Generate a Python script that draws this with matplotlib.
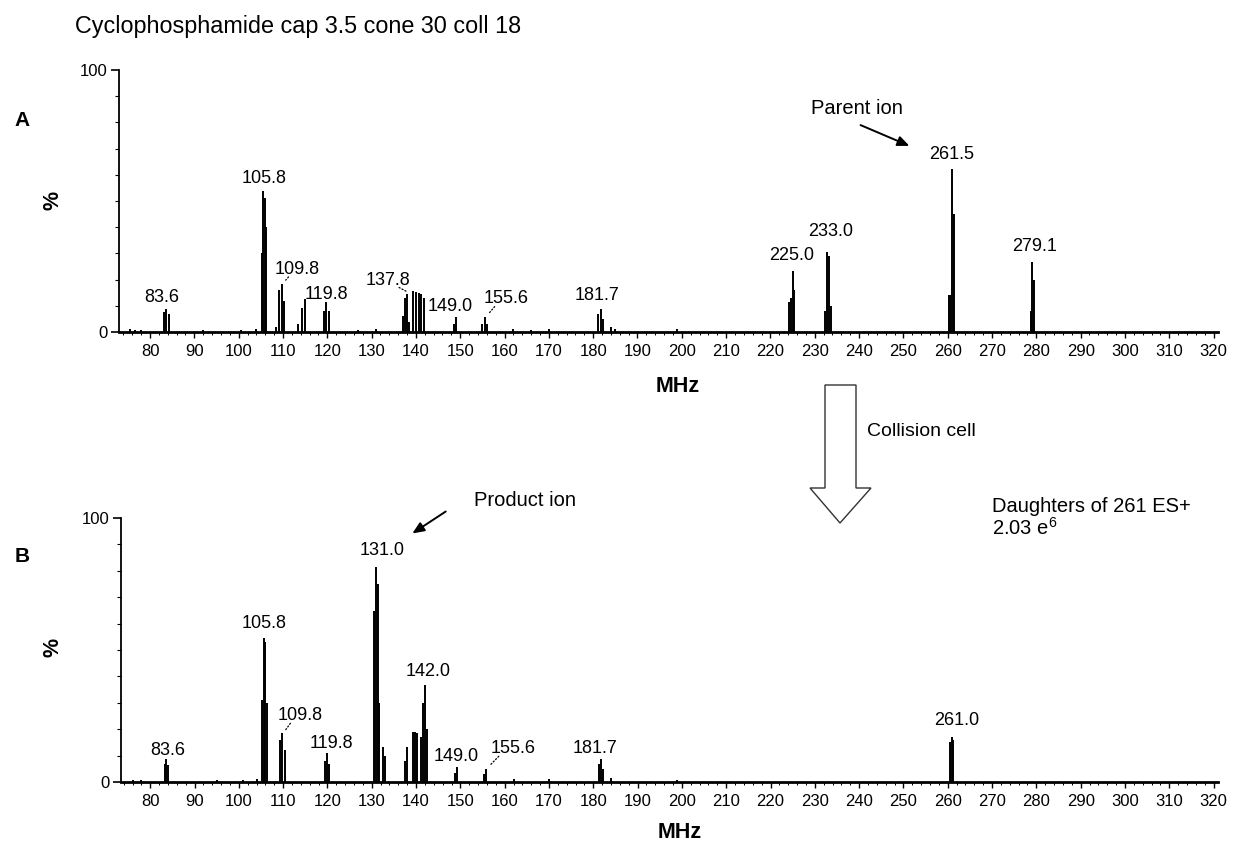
import matplotlib
matplotlib.use("Agg")
import matplotlib.pyplot as plt
from matplotlib.patches import Polygon

plt.rcParams['font.family'] = ['Liberation Sans', 'DejaVu Sans']
plt.rcParams['mathtext.fontset'] = 'custom'
plt.rcParams['mathtext.rm'] = 'Liberation Sans'

# ---------------- data ----------------
title = "Cyclophosphamide cap 3.5 cone 30 coll 18"
x_ticks = list(range(80, 330, 10))

# Panel A (parent scan) stick peaks: m/z and relative intensity (%)
a_mz = [75.5, 76.5, 78.0, 83.2, 83.6, 84.2, 92.0, 100.5, 104.0,
        105.2, 105.6, 105.9, 106.2, 108.5, 109.2, 109.8, 110.2,
        113.5, 114.3, 115.0, 119.3, 119.8, 120.3, 127.0, 131.0,
        137.0, 137.5, 137.9, 138.5, 139.3, 140.0, 140.6, 141.2, 141.8,
        148.5, 149.0, 155.0, 155.6, 156.0, 162.0, 166.0, 170.0,
        181.2, 181.7, 182.3, 184.0, 185.0, 199.0,
        224.2, 224.6, 225.0, 225.4, 232.4, 232.8, 233.2, 233.6,
        260.2, 260.6, 261.0, 261.4, 278.7, 279.1, 279.5]
a_int = [1.2, 0.8, 0.7, 7.5, 8.9, 7.0, 0.8, 0.8, 1.0,
         30.0, 54.0, 51.0, 40.0, 2.0, 16.0, 18.5, 12.0,
         3.0, 9.0, 12.7, 8.0, 11.5, 8.0, 0.8, 1.0,
         6.0, 13.0, 14.6, 4.0, 15.5, 15.2, 14.8, 14.5, 13.0,
         3.0, 5.7, 3.0, 5.7, 3.0, 1.0, 0.8, 1.0,
         7.0, 8.9, 5.0, 2.0, 1.2, 1.0,
         11.5, 13.0, 23.3, 16.0, 8.0, 30.6, 29.0, 10.0,
         14.0, 14.0, 62.4, 45.0, 8.0, 26.8, 20.0]
a_labels = ["83.6", "105.8", "109.8", "119.8", "137.8", "149.0", "155.6",
            "181.7", "225.0", "233.0", "261.5", "279.1"]
a_label_mz = [83.6, 105.6, 109.8, 119.8, 137.9, 149.0, 155.6, 181.7,
              225.0, 232.8, 261.0, 279.1]
a_label_int = [8.9, 54.0, 18.5, 11.5, 14.6, 5.7, 5.7, 8.9, 23.3, 30.6, 62.4, 26.8]

# Panel B (daughters of 261) stick peaks
b_mz = [76.0, 78.0, 83.3, 83.6, 84.1, 95.0, 101.0, 104.0,
        105.2, 105.6, 105.9, 106.3, 109.4, 109.8, 110.4,
        119.5, 119.8, 120.3, 130.5, 130.9, 131.3, 131.7, 132.5, 133.0,
        137.5, 138.0, 139.2, 139.7, 140.3, 141.0, 141.6, 142.0, 142.4,
        148.8, 149.2, 155.4, 155.8, 162.0, 170.0,
        181.3, 181.7, 182.2, 184.0, 199.0, 260.6, 261.0, 261.3]
b_int = [0.8, 0.7, 7.0, 8.9, 6.5, 0.7, 0.8, 1.0,
         31.0, 54.4, 53.0, 30.0, 16.0, 18.4, 12.0,
         8.0, 10.8, 7.0, 64.6, 81.6, 75.0, 30.0, 13.3, 10.0,
         8.0, 13.3, 19.0, 19.0, 18.5, 17.0, 30.0, 36.7, 20.0,
         3.5, 5.7, 3.0, 5.0, 1.0, 1.0,
         7.0, 8.9, 5.0, 1.5, 0.8, 15.0, 17.1, 16.0]
b_labels = ["83.6", "105.8", "109.8", "119.8", "131.0", "142.0", "149.0",
            "155.6", "181.7", "261.0"]
b_label_mz = [83.6, 105.6, 109.8, 119.8, 130.9, 142.0, 149.2, 155.8, 181.7, 261.0]
b_label_int = [8.9, 54.4, 18.4, 10.8, 81.6, 36.7, 5.7, 5.0, 8.9, 17.1]

# label offsets (layout): (dx in m/z, dy in %)
a_offsets = [(-0.9, 4.1), (0.2, 4.6), (3.4, 5.5), (0.1, 3.0), (-4.1, 5.1),
             (-1.3, 3.9), (4.7, 7.0), (-0.8, 5.1), (-0.2, 5.8), (0.8, 7.6),
             (0.0, 5.5), (0.4, 5.7)]
b_offsets = [(0.4, 3.1), (0.2, 5.6), (4.0, 6.9), (1.1, 3.8), (1.4, 6.1),
             (0.7, 5.1), (-0.2, 3.8), (6.0, 7.7), (-1.3, 3.8), (1.0, 6.3)]
leader_a = {"109.8", "155.6", "137.8"}
leader_b = {"109.8", "155.6"}

W, H = 1235, 844
fig = plt.figure(figsize=(W / 100, H / 100), dpi=100)
fig.patch.set_facecolor("white")


def px_rect(l, t, r, b):
    return [l / W, 1 - b / H, (r - l) / W, (b - t) / H]


def style_axis(ax, xmin):
    ax.set_xlim(xmin, 321)
    ax.set_ylim(0, 100)
    ax.patch.set_alpha(0)
    for s in ("top", "right"):
        ax.spines[s].set_visible(False)
    ax.spines["left"].set_linewidth(1.3)
    ax.spines["bottom"].set_linewidth(2.0)
    ax.set_xticks(x_ticks)
    ax.set_xticklabels([str(t) for t in x_ticks])
    ax.set_xticks(list(range(74, 322, 2)), minor=True)
    ax.set_yticks([0, 100])
    ax.set_yticklabels(["0", "100"])
    ax.set_yticks(list(range(10, 100, 10)), minor=True)
    ax.tick_params(axis="x", which="major", length=4, width=1, pad=5, labelsize=12)
    ax.tick_params(axis="x", which="minor", length=2, width=0.7)
    ax.tick_params(axis="y", which="major", length=6, width=1.2, pad=2, labelsize=12)
    ax.tick_params(axis="y", which="minor", length=3, width=0.8)


def draw_panel(ax, mz, inten, labels, lmz, lint, offs, leaders):
    ax.vlines(mz, 0, inten, colors="black", linewidth=1.4)
    for lab, x, y, (dx, dy) in zip(labels, lmz, lint, offs):
        ax.text(x + dx, y + dy, lab, ha="center", va="center", fontsize=13,
                clip_on=False)
        if lab in leaders:
            ax.annotate("", xy=(x + 0.4, y + 0.5), xytext=(x + dx * 0.55, y + dy - 2.2),
                        arrowprops=dict(arrowstyle="-", linestyle=":", lw=0.9,
                                        color="black"))


axA = fig.add_axes(px_rect(119, 70, 1218, 332))
style_axis(axA, 73.0)
draw_panel(axA, a_mz, a_int, a_labels, a_label_mz, a_label_int, a_offsets, leader_a)

axB = fig.add_axes(px_rect(121, 518, 1218, 782))
style_axis(axB, 73.4)
draw_panel(axB, b_mz, b_int, b_labels, b_label_mz, b_label_int, b_offsets, leader_b)

# overlay in pixel coordinates for annotations
ov = fig.add_axes([0, 0, 1, 1])
ov.set_xlim(0, W)
ov.set_ylim(H, 0)
ov.axis("off")
ov.patch.set_alpha(0)

ov.text(75, 27, title, ha="left", va="center", fontsize=16.8)
ov.text(22, 120, "A", ha="center", va="center", fontsize=15, fontweight="bold")
ov.text(22, 557, "B", ha="center", va="center", fontsize=15, fontweight="bold")
ov.text(53, 200, "%", ha="center", va="center", fontsize=15.5, fontweight="bold", rotation=90)
ov.text(53, 647, "%", ha="center", va="center", fontsize=15.5, fontweight="bold", rotation=90)
ov.text(678, 387, "MHz", ha="center", va="center", fontsize=15.5, fontweight="bold")
ov.text(680, 833, "MHz", ha="center", va="center", fontsize=15.5, fontweight="bold")

ov.text(857, 109, "Parent ion", ha="center", va="center", fontsize=14.5)
ov.annotate("", xy=(912, 147), xytext=(858, 124),
            arrowprops=dict(arrowstyle="-|>,head_length=0.7,head_width=0.3",
                            lw=1.4, color="black"))
ov.text(525, 501, "Product ion", ha="center", va="center", fontsize=14.5)
ov.annotate("", xy=(410, 535), xytext=(448, 510),
            arrowprops=dict(arrowstyle="-|>,head_length=0.7,head_width=0.3",
                            lw=1.4, color="black"))

block = Polygon([(825, 385), (856, 385), (856, 488), (871, 488), (840, 523),
                 (810, 488), (825, 488)], closed=True, facecolor="white",
                edgecolor="#333333", linewidth=1.0)
ov.add_patch(block)
ov.text(867, 432, "Collision cell", ha="left", va="center", fontsize=14)
ov.text(992, 506, "Daughters of 261 ES+", ha="left", va="center", fontsize=14.5)
ov.text(992, 528, r"2.03 e$^{\mathrm{6}}$", ha="left", va="center", fontsize=14.5)

fig.savefig("out.png", dpi=100, facecolor="white")
